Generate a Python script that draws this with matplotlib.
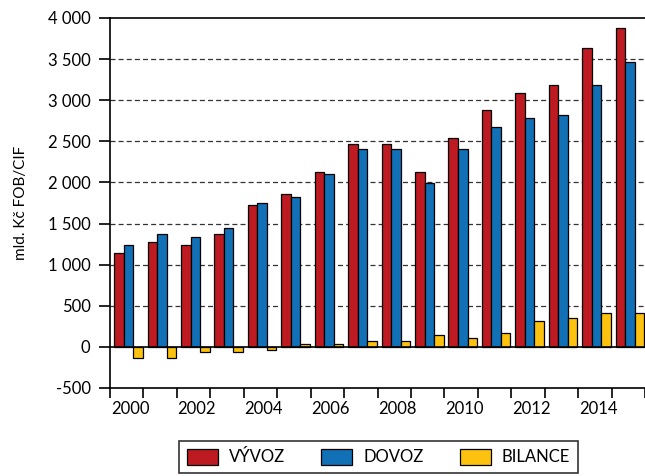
import matplotlib.pyplot as plt
import numpy as np
from matplotlib.ticker import FuncFormatter

years = list(range(2000, 2016))
vyvoz = [1139, 1273, 1240, 1374, 1720, 1858, 2130, 2472, 2472, 2130, 2541, 2887, 3090, 3191, 3639, 3878]
dovoz = [1240, 1374, 1341, 1444, 1756, 1822, 2098, 2403, 2403, 1992, 2403, 2679, 2785, 2817, 3191, 3468]
bilance = [-134, -134, -65, -65, -32, 41, 41, 73, 73, 143, 110, 175, 313, 346, 415, 415]

plt.rcParams['font.family'] = ['Lato', 'DejaVu Sans']

fig = plt.figure(figsize=(6.45, 4.76), dpi=100)
ax = fig.add_axes([110/645, 1-388/476, 1-110/645, (388-18)/476])

x = np.arange(len(years))
w = 0.285
c = x + 0.05
ax.bar(c - w, vyvoz, w, color='#BE1A22', edgecolor='black', linewidth=0.9, label='VÝVOZ', zorder=3)
ax.bar(c, dovoz, w, color='#1170B6', edgecolor='black', linewidth=0.9, label='DOVOZ', zorder=3)
ax.bar(c + w, bilance, w, color='#FDC20F', edgecolor='black', linewidth=0.9, label='BILANCE', zorder=3)

ax.set_xlim(-0.5, len(years) - 0.5)
ax.set_ylim(-500, 4000)
ax.set_yticks(range(-500, 4001, 500))
ax.yaxis.set_major_formatter(FuncFormatter(lambda v, p: f"{int(v):,}".replace(",", " ")))
for v in range(500, 4000, 500):
    ax.axhline(v, color='#333333', linestyle=(0, (4, 2.5)), linewidth=0.9, zorder=1)
ax.axhline(0, color='black', linewidth=1.2, zorder=4)

ax.set_xticks(np.arange(len(years) + 1) - 0.5)
ax.set_xticklabels([])
ax.set_xticks(x[::2] + 0.1, minor=True)
ax.set_xticklabels([str(y) for y in years[::2]], minor=True)
ax.tick_params(axis='x', which='major', length=7, width=1.2, direction='out')
ax.tick_params(axis='x', which='minor', length=0, pad=9, labelsize=12)
ax.tick_params(axis='y', length=8, width=1.2, direction='out', labelsize=12, pad=6)

ax.spines['right'].set_visible(False)
for s in ['left', 'bottom', 'top']:
    ax.spines[s].set_linewidth(1.2)

ax.set_ylabel('mld. Kč FOB/CIF', fontsize=11, labelpad=14)

leg = fig.legend(loc='upper center', bbox_to_anchor=(378.5/645, 1-441/476), ncol=3,
                 fontsize=12, frameon=True, fancybox=False, edgecolor='black',
                 handlelength=1.85, handleheight=1.15, handletextpad=0.65,
                 columnspacing=2.2, borderpad=0.45, borderaxespad=0)
leg.get_frame().set_linewidth(1.2)

fig.savefig('out.png', dpi=100)
